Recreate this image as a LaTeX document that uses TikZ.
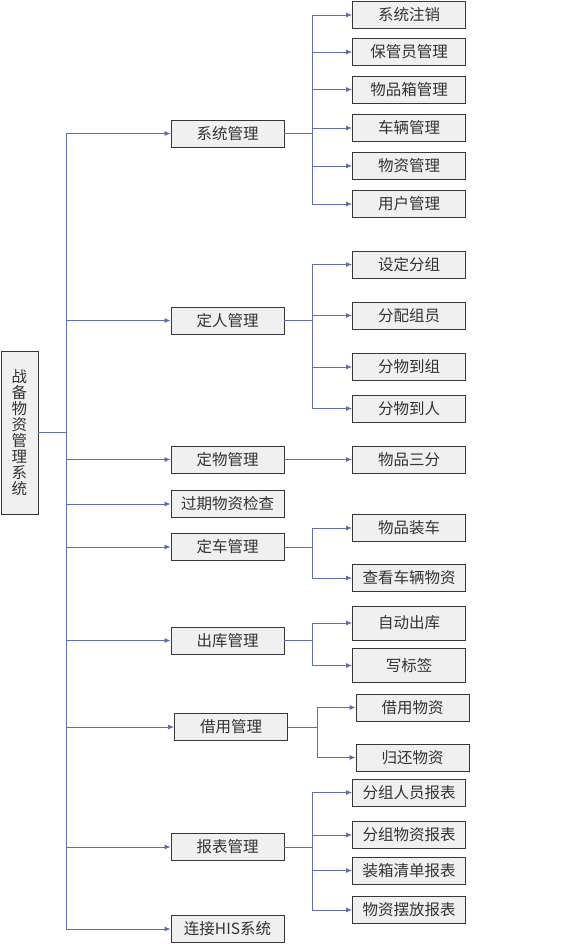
\documentclass[tikz,border=0pt]{standalone}
\usepackage{fontspec}
\setmainfont{Noto Sans CJK SC}
\usepackage{tikz}
\usetikzlibrary{arrows.meta, positioning, shadows}
\definecolor{boxgray}{RGB}{240, 240, 240}
\definecolor{edgegray}{RGB}{55, 55, 55}
\definecolor{linkblue}{RGB}{95, 110, 175}
\definecolor{tipblue}{RGB}{70, 110, 195}

\begin{document}
\begin{tikzpicture}[
    x=1pt, y=-1pt,
    box/.style={rectangle, draw=edgegray, fill=boxgray, line width=0.9pt,
        minimum width=113pt, minimum height=27pt, inner sep=0pt,
        font=\fontsize{15.5}{17}\selectfont, text=black!80,
        drop shadow={shadow xshift=0.7pt, shadow yshift=-0.7pt, fill=black!45, opacity=0.8}},
    rootbox/.style={box, minimum width=37pt, minimum height=163pt, align=center,
        font=\fontsize{15.5}{16}\selectfont},
    arrow/.style={line width=0.8pt, linkblue, -{Latex[length=6pt, width=5pt, fill=tipblue]}},
    link/.style={line width=0.8pt, linkblue}
]
    \useasboundingbox (0,0) rectangle (570,944);

    % Root
    \node[rootbox] (root) at (19.5,432.5) {战\\备\\物\\资\\管\\理\\系\\统};
    \coordinate (trunk) at (66,432.5);

    % Level 1
    \node[box] (sys)    at (227.5,133.5) {系统管理};
    \node[box] (people) at (227.5,320.5) {定人管理};
    \node[box] (goods)  at (227.5,459.5) {定物管理};
    \node[box] (expire) at (227.5,504)   {过期物资检查};
    \node[box] (car)    at (227.5,547)   {定车管理};
    \node[box] (out)    at (227.5,640.5) {出库管理};
    \node[box] (borrow) at (231,727)     {借用管理};
    \node[box] (report) at (227.5,847)   {报表管理};
    \node[box] (his)    at (227.5,929)   {连接HIS系统};

    % Level 2: system
    \node[box] (sys1) at (409,15)  {系统注销};
    \node[box] (sys2) at (409,52)  {保管员管理};
    \node[box] (sys3) at (409,89.5) {物品箱管理};
    \node[box] (sys4) at (409,128) {车辆管理};
    \node[box] (sys5) at (409,166) {物资管理};
    \node[box] (sys6) at (409,204) {用户管理};

    % Level 2: people
    \node[box] (peo1) at (409,264.5) {设定分组};
    \node[box] (peo2) at (409,315.5) {分配组员};
    \node[box] (peo3) at (409,367)   {分物到组};
    \node[box] (peo4) at (409,408.5) {分物到人};

    % Level 2: goods, car, out
    \node[box] (goo1) at (409,459.5) {物品三分};
    \node[box] (car1) at (409,528)   {物品装车};
    \node[box] (car2) at (409,578)   {查看车辆物资};
    \node[box, minimum height=34pt] (out1) at (409,623) {自动出库};
    \node[box, minimum height=34pt] (out2) at (409,665.5) {写标签};

    % Level 2: borrow, report
    \node[box] (bor1) at (412.5,707.5) {借用物资};
    \node[box] (bor2) at (412.5,757.5) {归还物资};
    \node[box] (rep1) at (409,792.5) {分组人员报表};
    \node[box] (rep2) at (409,835)   {分组物资报表};
    \node[box] (rep3) at (409,870.5) {装箱清单报表};
    \node[box] (rep4) at (409,910)   {物资摆放报表};

    % Arrows
    \draw[link] (root.east) -- (trunk);
    \foreach \n in {sys, people, goods, expire, car, out, borrow, report, his}
        \draw[arrow] (trunk) |- (\n.west);
    \foreach \n in {sys1, sys2, sys3, sys4, sys5, sys6}
        \draw[arrow] (sys.east) -- ++(28,0) |- (\n.west);
    \foreach \n in {peo1, peo2, peo3, peo4}
        \draw[arrow] (people.east) -- ++(28,0) |- (\n.west);
    \draw[arrow] (goods) -- (goo1);
    \foreach \n in {car1, car2}
        \draw[arrow] (car.east) -- ++(28,0) |- (\n.west);
    \foreach \n in {out1, out2}
        \draw[arrow] (out.east) -- ++(28,0) |- (\n.west);
    \foreach \n in {bor1, bor2}
        \draw[arrow] (borrow.east) -- ++(29,0) |- (\n.west);
    \foreach \n in {rep1, rep2, rep3, rep4}
        \draw[arrow] (report.east) -- ++(28,0) |- (\n.west);
\end{tikzpicture}
\end{document}
